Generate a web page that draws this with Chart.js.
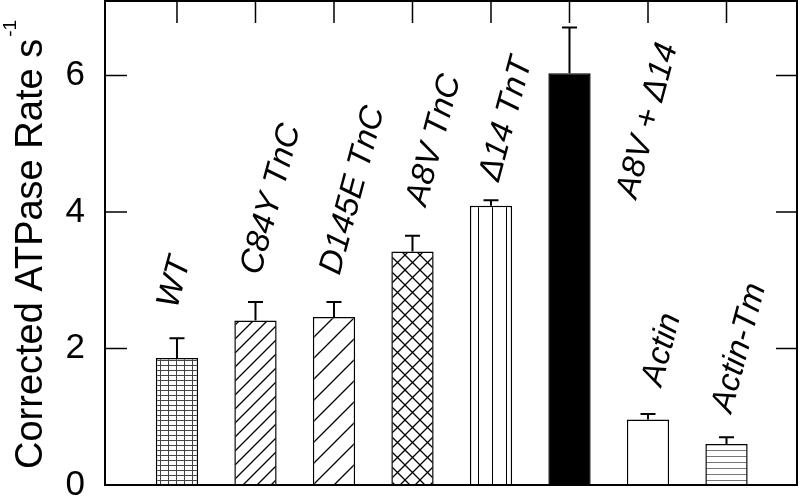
<!DOCTYPE html>
<html>
<head>
<meta charset="utf-8">
<script src="https://cdn.jsdelivr.net/npm/chart.js@4.4.1/dist/chart.umd.min.js"></script>
<style>
  html, body { margin: 0; padding: 0; background: #fff; }
  canvas { display: block; }
</style>
</head>
<body>
<canvas id="atpase" width="800" height="498"></canvas>
<script>
// data
const categories = ["WT", "C84Y TnC", "D145E TnC", "A8V TnC", "\u039414 TnT", "A8V + \u039414", "Actin", "Actin-Tm"];
const rates = [1.86, 2.41, 2.46, 3.42, 4.09, 6.03, 0.96, 0.60];
const errors = [0.29, 0.27, 0.22, 0.23, 0.08, 0.67, 0.08, 0.10];
const yTicks = [0, 2, 4, 6];

// where each rotated label starts (category offset, value units)
const labelDx = [0, 0.06, 0.07, 0.17, 0.1, 0.85, 0.17, 0.06];
const labelY = [2.57, 3.06, 3.06, 4.07, 4.43, 4.18, 1.43, 1.04];

const canva = document.querySelector("#atpase");
const ctx = canva.getContext("2d");

function tile(w, h, draw) {
  const c = document.createElement("canvas");
  c.width = w;
  c.height = h;
  const g = c.getContext("2d");
  g.fillStyle = "#fff";
  g.fillRect(0, 0, w, h);
  draw(g, w, h);
  return ctx.createPattern(c, "repeat");
}

const gridFill = tile(8, 5, (g, w, h) => {
  g.strokeStyle = "#444";
  g.lineWidth = 1;
  g.beginPath();
  g.moveTo(0.5, 0); g.lineTo(0.5, h);
  g.moveTo(0, 0.5); g.lineTo(w, 0.5);
  g.stroke();
});

function diag(s) {
  return tile(s, s, (g) => {
    g.strokeStyle = "#000";
    g.lineWidth = 1.3;
    g.beginPath();
    g.moveTo(0, s); g.lineTo(s, 0);
    g.moveTo(-2, 2); g.lineTo(2, -2);
    g.moveTo(s - 2, s + 2); g.lineTo(s + 2, s - 2);
    g.stroke();
  });
}

const crossFill = tile(15, 15, (g, s) => {
  g.strokeStyle = "#000";
  g.lineWidth = 1.3;
  g.beginPath();
  g.moveTo(0, s); g.lineTo(s, 0);
  g.moveTo(0, 0); g.lineTo(s, s);
  g.stroke();
});

const vertFill = tile(14, 4, (g, w, h) => {
  g.strokeStyle = "#000";
  g.lineWidth = 1;
  g.beginPath();
  g.moveTo(2.5, 0); g.lineTo(2.5, h);
  g.stroke();
});

const horizFill = tile(4, 6, (g, w) => {
  g.strokeStyle = "#777";
  g.lineWidth = 1;
  g.beginPath();
  g.moveTo(0, 0.5); g.lineTo(w, 0.5);
  g.stroke();
});

const fills = [gridFill, diag(14), diag(21), crossFill, vertFill, "#000", "#fff", horizFill];

const decor = {
  id: "decor",
  afterDatasetsDraw(chart) {
    const { ctx, chartArea: a, scales: { x, y } } = chart;
    ctx.save();
    ctx.strokeStyle = "#000";

    // error bars (upper half only)
    ctx.lineWidth = 2;
    rates.forEach((v, i) => {
      const cx = x.getPixelForValue(i);
      const y0 = y.getPixelForValue(v);
      const y1 = y.getPixelForValue(v + errors[i]);
      ctx.beginPath();
      ctx.moveTo(cx, y0);
      ctx.lineTo(cx, y1);
      ctx.moveTo(cx - 7.5, y1);
      ctx.lineTo(cx + 7.5, y1);
      ctx.stroke();
    });

    // inward ticks
    ctx.lineWidth = 1.5;
    ctx.beginPath();
    yTicks.forEach((t) => {
      if (t === 0) return;
      const py = y.getPixelForValue(t);
      ctx.moveTo(a.left, py); ctx.lineTo(a.left + 22, py);
      ctx.moveTo(a.right, py); ctx.lineTo(a.right - 21, py);
    });
    categories.forEach((c, i) => {
      const px = x.getPixelForValue(i);
      ctx.moveTo(px, a.top); ctx.lineTo(px, a.top + 22);
    });
    ctx.stroke();

    // frame
    ctx.lineWidth = 2;
    ctx.strokeRect(a.left, a.top, a.right - a.left, a.bottom - a.top);

    // rotated category labels
    ctx.fillStyle = "#000";
    ctx.font = "italic 33px 'Liberation Sans', Arial, sans-serif";
    ctx.textAlign = "left";
    ctx.textBaseline = "alphabetic";
    categories.forEach((c, i) => {
      ctx.save();
      ctx.translate(x.getPixelForValue(i + labelDx[i]), y.getPixelForValue(labelY[i]));
      ctx.rotate(-75 * Math.PI / 180);
      ctx.fillText(c, 0, 0);
      ctx.restore();
    });

    // y axis title with superscript
    ctx.save();
    ctx.translate(42, 469);
    ctx.rotate(-Math.PI / 2);
    ctx.font = "38px 'Liberation Sans', Arial, sans-serif";
    const main = "Corrected ATPase Rate s";
    ctx.fillText(main, 0, 0);
    const w = ctx.measureText(main).width;
    ctx.font = "19px 'Liberation Sans', Arial, sans-serif";
    ctx.fillText("-1", w + 2, -26);
    ctx.restore();

    ctx.restore();
  }
};

const barChart = new Chart(canva, {
  type: "bar",
  data: {
    datasets: [{
      data: rates.map((v, i) => ({ x: i, y: v })),
      backgroundColor: fills,
      borderColor: "#000",
      borderWidth: 1.5,
      borderSkipped: "bottom",
      barPercentage: 0.6,
      categoryPercentage: 1
    }]
  },
  options: {
    responsive: false,
    animation: false,
    layout: { padding: { top: 1, right: 3, bottom: 13, left: 0 } },
    plugins: { legend: { display: false }, tooltip: { enabled: false } },
    scales: {
      x: {
        type: "linear",
        offset: false,
        min: -0.917,
        max: 7.898,
        display: false
      },
      y: {
        min: 0,
        max: 7.09,
        afterFit: (s) => {
          s.width = 105;
          s.paddingTop = 0;
          s.paddingBottom = 0;
        },
        afterBuildTicks: (s) => { s.ticks = yTicks.map((v) => ({ value: v })); },
        grid: { display: false, drawTicks: false },
        border: { display: false },
        ticks: {
          padding: 20,
          color: "#000",
          font: { family: "'Liberation Sans', Arial, sans-serif", size: 35 }
        }
      }
    }
  },
  plugins: [decor]
});
</script>
</body>
</html>
